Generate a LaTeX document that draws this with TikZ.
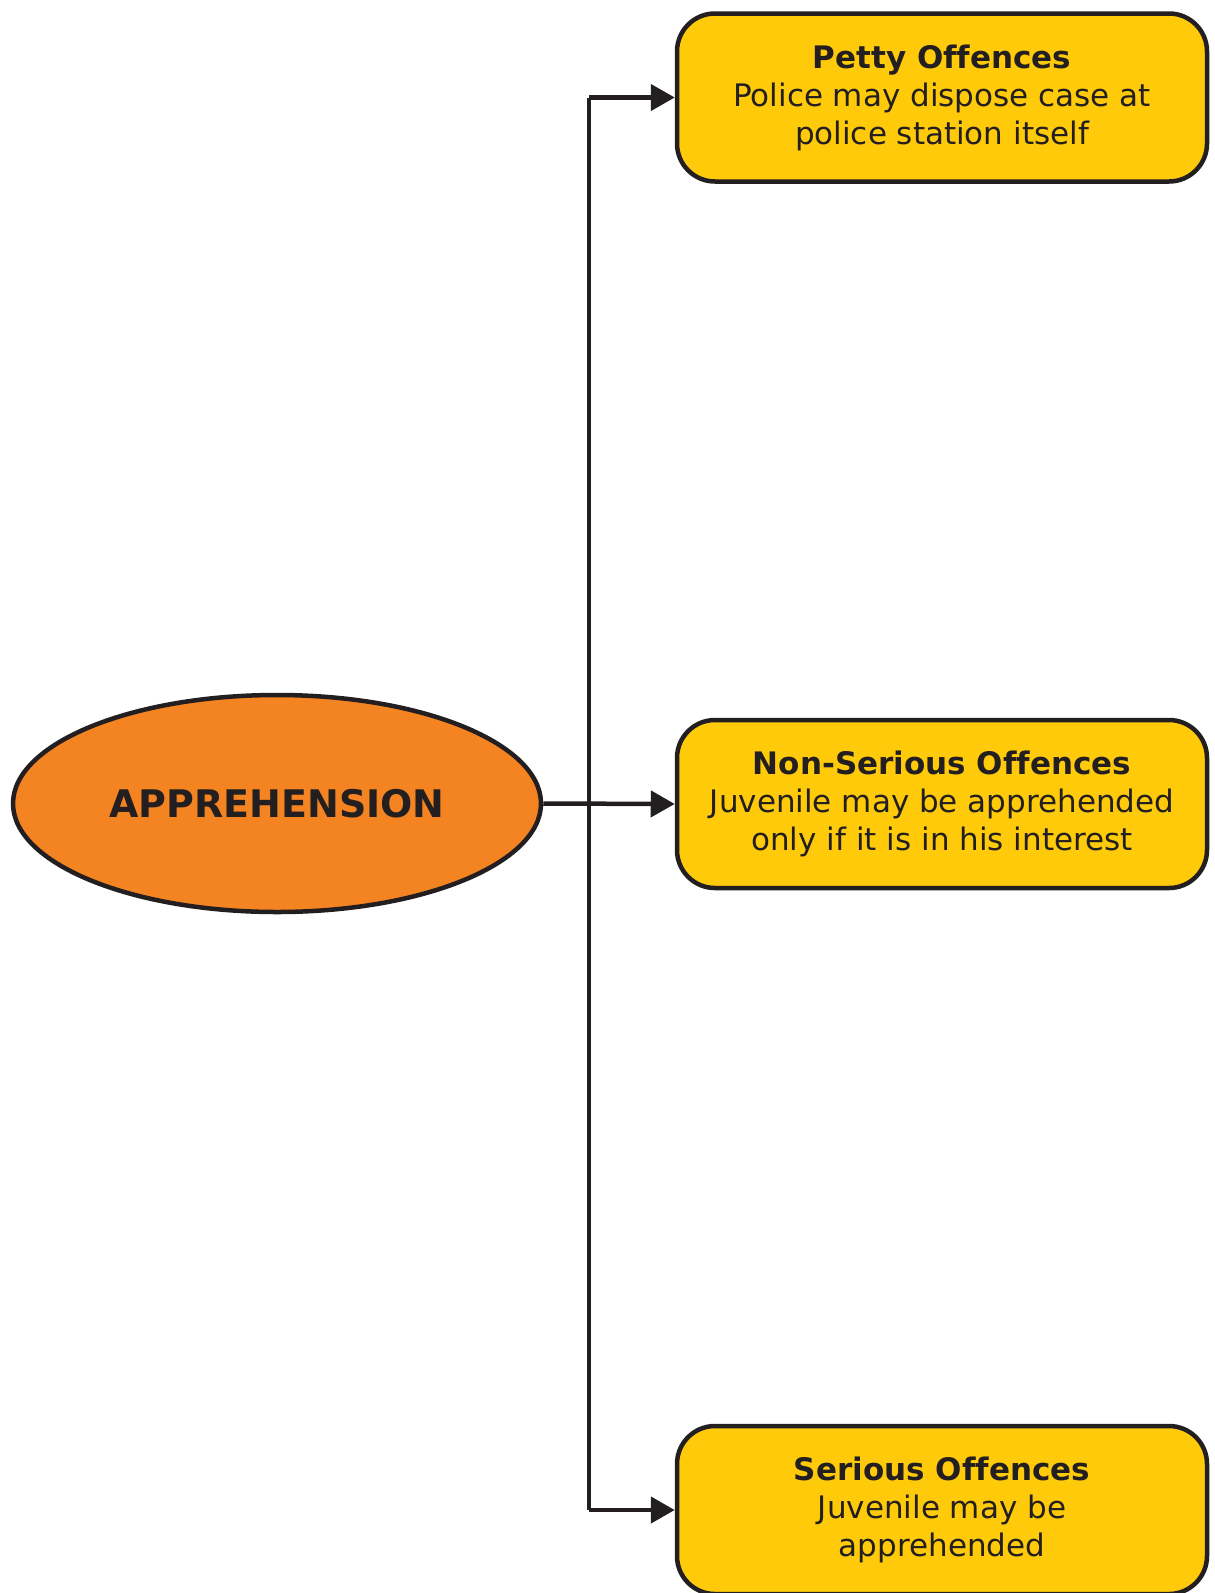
\documentclass[tikz,border=0pt]{standalone}
\usepackage{fontspec}
\setmainfont[Ligatures=NoCommon]{DejaVu Sans}
\usetikzlibrary{arrows.meta,shapes.geometric}

\definecolor{inkdark}{HTML}{231F20}
\definecolor{approrange}{HTML}{F48322}
\definecolor{offyellow}{HTML}{FECA0A}

\tikzset{
  offence/.style={draw=inkdark, line width=4.5pt, rounded corners=38pt, fill=offyellow,
    minimum width=530pt, minimum height=168pt, align=center, text=inkdark,
    font=\fontsize{31}{38}\selectfont},
  link/.style={draw=inkdark, line width=4.5pt},
  linkarrow/.style={link, -{Triangle[length=24pt, width=26pt]}}
}

\begin{document}
\begin{tikzpicture}[x=1pt, y=-1pt]
  \useasboundingbox (0,0) rectangle (1215,1593);

  % Apprehension
  \node[draw=inkdark, line width=4.5pt, ellipse, fill=approrange, inner sep=0pt,
    minimum width=528pt, minimum height=217pt, text=inkdark,
    font=\fontsize{38}{42}\selectfont\bfseries] (appr) at (277,803.5) {APPREHENSION};

  % Petty offences
  \node[offence] (petty) at (942,97.5)
    {\textbf{Petty Offences}\\Police may dispose case at\\police station itself};

  % Non-serious offences
  \node[offence] (nonserious) at (942,804)
    {\textbf{Non-Serious Offences}\\Juvenile may be apprehended\\only if it is in his interest};

  % Serious offences
  \node[offence] (serious) at (942,1510)
    {\textbf{Serious Offences}\\Juvenile may be\\apprehended};

  % Connectors
  \coordinate (trunk) at (589,0);
  \draw[link] (trunk |- petty.west) -- (trunk |- serious.west);
  \draw[linkarrow] (appr.east) -- (nonserious.west);
  \draw[linkarrow] (trunk |- petty.west) -- (petty.west);
  \draw[linkarrow] (trunk |- serious.west) -- (serious.west);
\end{tikzpicture}
\end{document}
